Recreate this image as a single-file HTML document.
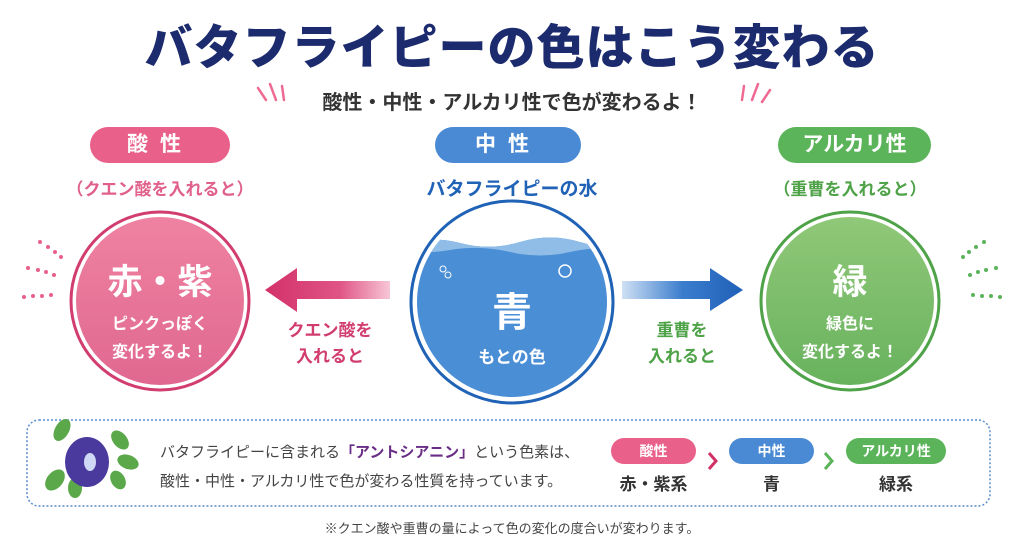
<!DOCTYPE html>
<html><head><meta charset="utf-8"><style>
*{margin:0;padding:0;box-sizing:border-box}
body{width:1024px;height:546px;background:#fff;position:relative;overflow:hidden;font-family:"Liberation Sans","Noto Sans CJK JP",sans-serif;font-weight:bold}
.a{position:absolute;white-space:nowrap}
.pill{position:absolute;border-radius:20px;color:#fff;text-align:center;font-size:21px;line-height:36px}
.c{text-align:center}
</style></head><body>
<div class="a c" style="left:0;width:1024px;top:8px;font-size:48px;color:#1c2b6e;font-weight:900;letter-spacing:1px">バタフライピーの色はこう変わる</div>
<div class="a c" style="left:0;width:1024px;top:86px;font-size:20px;color:#333">酸性・中性・アルカリ性で色が変わるよ！</div>
<svg class="a" style="left:0;top:0" width="1024" height="546">
<g stroke="#ef6a92" stroke-width="2.5" stroke-linecap="round">
<line x1="258" y1="88" x2="266" y2="100"/><line x1="270" y1="84" x2="276" y2="100"/><line x1="282" y1="86" x2="284" y2="100"/>
<line x1="742" y1="100" x2="744" y2="86"/><line x1="752" y1="100" x2="758" y2="84"/><line x1="762" y1="102" x2="770" y2="90"/>
</g>
<defs>
<linearGradient id="lp" x1="0" x2="1"><stop offset="0" stop-color="#d23068"/><stop offset=".6" stop-color="#e05586"/><stop offset="1" stop-color="#f7c6d6"/></linearGradient>
<linearGradient id="rb" x1="0" x2="1"><stop offset="0" stop-color="#cfe0f4"/><stop offset=".5" stop-color="#3b7dcd"/><stop offset="1" stop-color="#1f60b8"/></linearGradient>
<linearGradient id="pc" x1="0" y1="0" x2="0" y2="1"><stop offset="0" stop-color="#ef82a2"/><stop offset="1" stop-color="#e06890"/></linearGradient>
<linearGradient id="gc" x1="0" y1="0" x2="0" y2="1"><stop offset="0" stop-color="#90c878"/><stop offset="1" stop-color="#68b25e"/></linearGradient>
<clipPath id="cc"><circle cx="512" cy="302" r="95"/></clipPath>
</defs>
<!-- dots -->
<g fill="#e8608a"><circle cx="40" cy="242" r="2"/><circle cx="48" cy="247" r="2"/><circle cx="55" cy="252" r="2"/><circle cx="61" cy="257" r="2"/>
<circle cx="28" cy="268" r="2"/><circle cx="38" cy="270" r="2"/><circle cx="46" cy="272" r="2"/><circle cx="54" cy="275" r="2"/>
<circle cx="24" cy="297" r="2"/><circle cx="33" cy="296" r="2"/><circle cx="42" cy="296" r="2"/><circle cx="51" cy="295" r="2"/></g>
<g fill="#5bb35a"><circle cx="984" cy="242" r="2"/><circle cx="976" cy="247" r="2"/><circle cx="969" cy="252" r="2"/><circle cx="963" cy="257" r="2"/>
<circle cx="996" cy="268" r="2"/><circle cx="986" cy="270" r="2"/><circle cx="978" cy="272" r="2"/><circle cx="970" cy="275" r="2"/>
<circle cx="1000" cy="297" r="2"/><circle cx="991" cy="296" r="2"/><circle cx="982" cy="296" r="2"/><circle cx="973" cy="295" r="2"/></g>
<!-- left circle -->
<circle cx="160" cy="301" r="89" fill="#fff" stroke="#d23d6f" stroke-width="3"/>
<circle cx="160" cy="301" r="84" fill="url(#pc)"/>
<!-- right circle -->
<circle cx="850" cy="301" r="89" fill="#fff" stroke="#4ea247" stroke-width="3"/>
<circle cx="850" cy="301" r="84" fill="url(#gc)"/>
<!-- center circle -->
<circle cx="512" cy="302" r="101" fill="#fff" stroke="#1f62b6" stroke-width="3"/>
<g clip-path="url(#cc)"><rect x="400" y="200" width="230" height="210" fill="#fff"/>
<path d="M400 245 Q430 235 460 243 T520 242 T580 242 T630 240 V410 H400Z" fill="#4a8ed6"/>
<path d="M400 245 Q430 235 460 243 T520 242 T580 242 T630 240 V252 Q600 245 570 252 T510 252 T450 250 T400 250Z" fill="#8fbde8"/>
</g>
<circle cx="443" cy="269" r="3" fill="none" stroke="#fff" stroke-width="1"/><circle cx="448" cy="275" r="3" fill="none" stroke="#fff" stroke-width="1"/>
<circle cx="565" cy="271" r="6" fill="none" stroke="#fff" stroke-width="1.5"/>
<!-- arrows -->
<polygon points="265,290 297,268 297,281 390,281 390,299 297,299 297,312" fill="url(#lp)"/>
<polygon points="622,281 710,281 710,268 743,290 710,311 710,299 622,299" fill="url(#rb)"/>
<!-- bottom box -->
<rect x="27" y="420" width="963" height="86" rx="12" fill="none" stroke="#5a8ed0" stroke-width="1.5" stroke-dasharray="2 2"/>
<!-- flower -->
<g>
<ellipse cx="62" cy="430" rx="7" ry="12" fill="#5aa84a" transform="rotate(30 62 430)"/>
<ellipse cx="120" cy="440" rx="7" ry="11" fill="#5aa84a" transform="rotate(-40 120 440)"/>
<ellipse cx="128" cy="462" rx="7" ry="11" fill="#5aa84a" transform="rotate(-70 128 462)"/>
<ellipse cx="55" cy="480" rx="8" ry="12" fill="#5aa84a" transform="rotate(40 55 480)"/>
<ellipse cx="75" cy="488" rx="7" ry="10" fill="#5aa84a"/>
<ellipse cx="118" cy="480" rx="7" ry="10" fill="#5aa84a" transform="rotate(-30 118 480)"/>
<ellipse cx="87" cy="462" rx="22" ry="25" fill="#4a3a9e"/>
<ellipse cx="90" cy="462" rx="6" ry="9" fill="#cfd8f5"/>
</g>
<!-- chevrons -->
<polyline points="709,453 716,461 709,469" fill="none" stroke="#d23068" stroke-width="3"/>
<polyline points="825,453 832,461 825,469" fill="none" stroke="#5bb35a" stroke-width="3"/>
</svg>
<div class="pill" style="left:90px;top:127px;width:140px;background:#e9608a;letter-spacing:12px">酸性</div>
<div class="pill" style="left:435px;top:127px;width:146px;background:#4a8ad4;letter-spacing:12px">中性</div>
<div class="pill" style="left:778px;top:127px;width:153px;background:#5bb35a">アルカリ性</div>
<div class="a c" style="left:60px;width:200px;top:175px;font-size:17px;color:#e0608a">（クエン酸を入れると）</div>
<div class="a c" style="left:400px;width:224px;top:174px;font-size:19px;color:#1f62b6">バタフライピーの水</div>
<div class="a c" style="left:750px;width:200px;top:175px;font-size:17px;color:#4ea247">（重曹を入れると）</div>
<div class="a c" style="left:60px;width:200px;top:254px;font-size:35px;color:#fff">赤・紫</div>
<div class="a c" style="left:60px;width:200px;top:311px;font-size:16px;color:#fff;line-height:28px">ピンクっぽく<br>変化するよ！</div>
<div class="a c" style="left:412px;width:200px;top:280px;font-size:40px;color:#fff">青</div>
<div class="a c" style="left:412px;width:200px;top:343px;font-size:17px;color:#fff">もとの色</div>
<div class="a c" style="left:750px;width:200px;top:254px;font-size:35px;color:#fff">緑</div>
<div class="a c" style="left:750px;width:200px;top:311px;font-size:16px;color:#fff;line-height:28px">緑色に<br>変化するよ！</div>
<div class="a c" style="left:270px;width:120px;top:318px;font-size:17px;color:#d23d6f;line-height:26px">クエン酸を<br>入れると</div>
<div class="a c" style="left:622px;width:120px;top:318px;font-size:17px;color:#4ea247;line-height:26px">重曹を<br>入れると</div>
<div class="a" style="left:160px;top:438px;font-size:15px;color:#444;line-height:29px;font-weight:normal">バタフライピーに含まれる<b style="color:#6a2d86">「アントシアニン」</b>という色素は、<br>酸性・中性・アルカリ性で色が変わる性質を持っています。</div>
<div class="pill" style="left:611px;top:438px;width:85px;line-height:26px;font-size:14px;background:#e9608a">酸性</div>
<div class="pill" style="left:729px;top:438px;width:85px;line-height:26px;font-size:14px;background:#4a8ad4">中性</div>
<div class="pill" style="left:846px;top:438px;width:100px;line-height:26px;font-size:14px;background:#5bb35a">アルカリ性</div>
<div class="a c" style="left:611px;width:85px;top:470px;font-size:17px;color:#333">赤・紫系</div>
<div class="a c" style="left:729px;width:85px;top:470px;font-size:17px;color:#333">青</div>
<div class="a c" style="left:846px;width:100px;top:470px;font-size:17px;color:#333">緑系</div>
<div class="a c" style="left:0;width:1024px;top:518px;font-size:13px;color:#444;font-weight:normal">※クエン酸や重曹の量によって色の変化の度合いが変わります。</div>
</body></html>
